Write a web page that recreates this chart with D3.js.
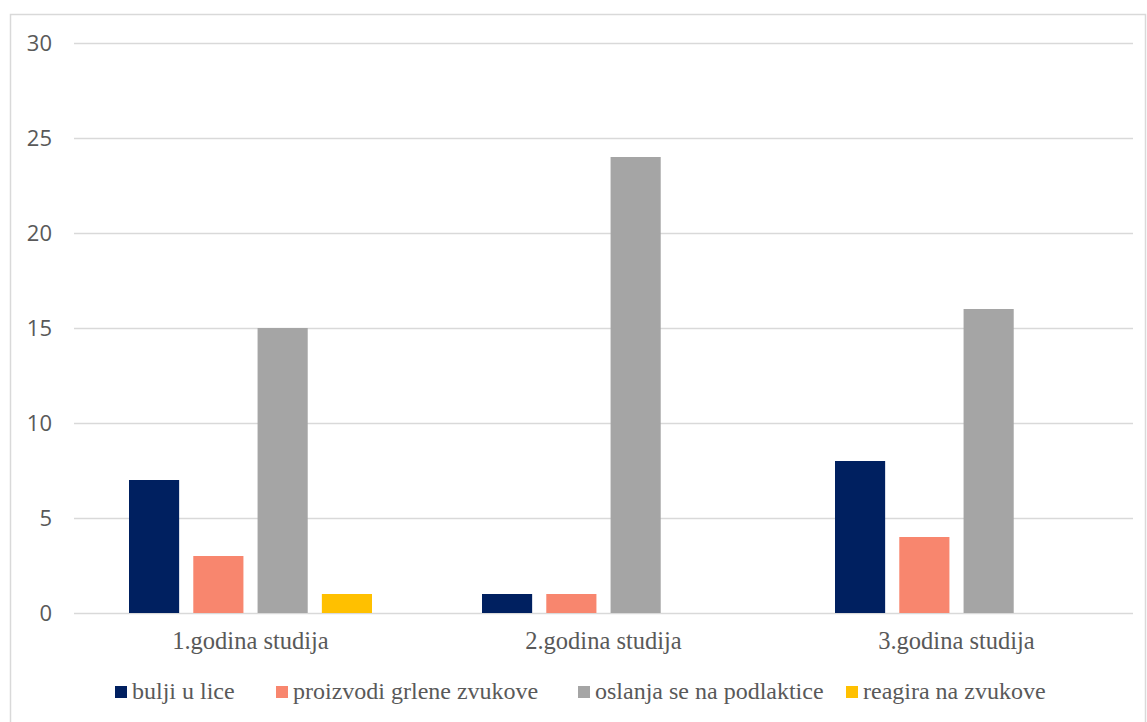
<!DOCTYPE html>
<html>
<head>
<meta charset="utf-8">
<script src="https://cdn.jsdelivr.net/npm/d3@7"></script>
<style>
  body { margin: 0; background: #fff; }
  svg { display: block; }
  .serif { font-family: "Liberation Serif", "Times New Roman", serif; }
</style>
</head>
<body>
<div id="chart"></div>
<script>
const categories = ["1.godina studija", "2.godina studija", "3.godina studija"];
const series = ["bulji u lice", "proizvodi grlene zvukove", "oslanja se na podlaktice", "reagira na zvukove"];
const colors = ["#002060", "#F8866E", "#A5A5A5", "#FFC000"];
const values = [
    [7, 3, 15, 1],
    [1, 1, 24, 0],
    [8, 4, 16, 0]
];
const yTicks = [0, 5, 10, 15, 20, 25, 30];

const width = 1147, height = 722;
const margin = { top: 43, right: 14, bottom: 109, left: 74 };

const svg = d3.select("#chart")
    .append("svg")
    .attr("width", width)
    .attr("height", height);

// outer frame
svg.append("rect")
    .attr("x", 10.5)
    .attr("y", 14.5)
    .attr("width", 1135)
    .attr("height", 720)
    .attr("fill", "none")
    .attr("stroke", "#d9d9d9")
    .attr("stroke-width", 1.5);

const g = svg.append("g")
    .attr("transform", `translate(${margin.left},${margin.top})`);

const w = width - margin.left - margin.right;
const h = height - margin.top - margin.bottom;

const y = d3.scaleLinear().domain([0, 30]).range([h, 0]);

const x0 = d3.scaleBand().domain(categories).range([0, w]).padding(0);

const x1 = d3.scaleBand()
    .domain(series)
    .range([55, x0.bandwidth() - 55])
    .paddingInner(0.22)
    .paddingOuter(0);

// gridlines
g.selectAll(".grid")
    .data(yTicks)
    .enter()
    .append("line")
    .attr("x1", 0)
    .attr("x2", w)
    .attr("y1", d => Math.round(y(d)) + 0.5)
    .attr("y2", d => Math.round(y(d)) + 0.5)
    .attr("stroke", "#d9d9d9")
    .attr("stroke-width", 1.5);

// y labels
g.selectAll(".ylab")
    .data(yTicks)
    .enter()
    .append("text")
    .attr("x", -22)
    .attr("y", d => y(d))
    .attr("dy", "0.36em")
    .attr("text-anchor", "end")
    .style("font-family", "'Open Sans', sans-serif")
    .style("font-size", "22px")
    .style("fill", "#595959")
    .text(d => d);

// bars
const groups = g.selectAll(".grp")
    .data(categories)
    .enter()
    .append("g")
    .attr("transform", d => `translate(${x0(d)},0)`);

groups.selectAll("rect")
    .data((d, i) => series.map((s, j) => ({ s, j, v: values[i][j] })))
    .enter()
    .append("rect")
    .attr("x", d => x1(d.s))
    .attr("y", d => y(d.v))
    .attr("width", x1.bandwidth())
    .attr("height", d => h - y(d.v))
    .attr("fill", d => colors[d.j]);

// x labels
g.selectAll(".xlab")
    .data(categories)
    .enter()
    .append("text")
    .attr("class", "serif")
    .attr("x", d => x0(d) + x0.bandwidth() / 2)
    .attr("y", h + 36)
    .attr("text-anchor", "middle")
    .style("font-size", "24.5px")
    .style("fill", "#595959")
    .text(d => d);

// legend
const legendX = [115, 276, 578, 846];
const legend = svg.append("g");
series.forEach((s, i) => {
    legend.append("rect")
        .attr("x", legendX[i])
        .attr("y", 686)
        .attr("width", 12)
        .attr("height", 12)
        .attr("fill", colors[i]);
    legend.append("text")
        .attr("class", "serif")
        .attr("x", legendX[i] + 17)
        .attr("y", 699)
        .style("font-size", "24px")
        .style("fill", "#595959")
        .text(s);
});
</script>
</body>
</html>
